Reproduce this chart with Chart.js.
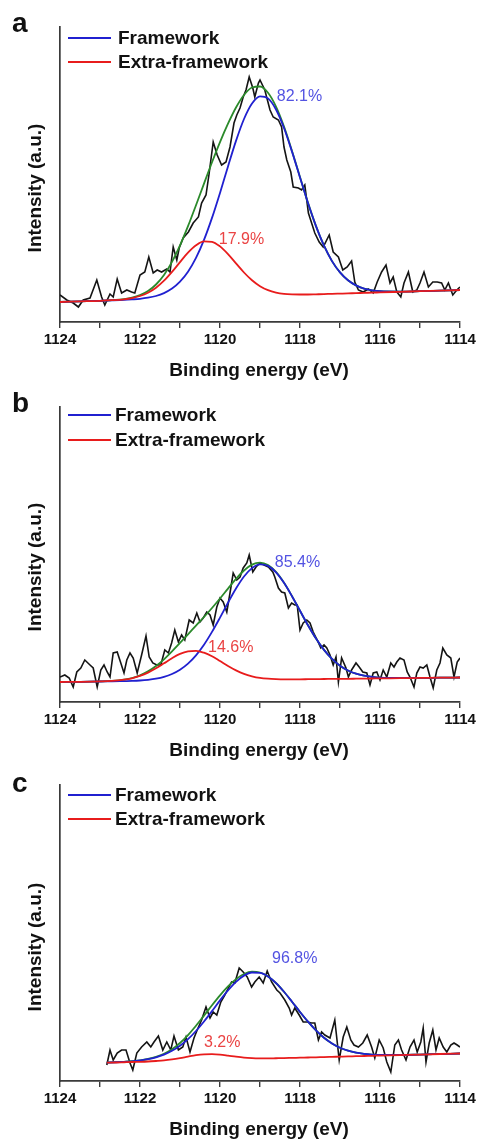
<!DOCTYPE html>
<html><head><meta charset="utf-8">
<script src="https://cdn.jsdelivr.net/npm/chart.js@4"></script>
<style>
html,body{margin:0;padding:0;background:#fff;}
body{width:479px;height:1142px;position:relative;overflow:hidden;}
.panel{position:absolute;left:0;width:479px;height:380px;}
canvas{display:block;}
</style></head><body>
<div class="panel" style="top:0"><canvas id="ca" width="479" height="380"></canvas></div>
<div class="panel" style="top:380px"><canvas id="cb" width="479" height="380"></canvas></div>
<div class="panel" style="top:760px"><canvas id="cc" width="479" height="380"></canvas></div>
<script>
// ---------- DATA ----------
const xTickLabels = [1124, 1122, 1120, 1118, 1116, 1114];
const seriesNames = ["Framework", "Extra-framework"];

// panel a
const fitE_a = [1124,1123.5,1123,1122.7,1122.4,1122.2,1122.0,1121.8,1121.6,1121.4,1121.2,1121.0,1120.8,1120.6,1120.4,1120.2,1120.0,1119.8,1119.6,1119.4,1119.2,1119.0,1118.8,1118.6,1118.4,1118.2,1118.0,1117.8,1117.6,1117.4,1117.2,1117.0,1116.8,1116.6,1116.4,1116.2,1116.0,1115.5,1115.0,1114.5,1114.0];
const red_a = [20,20.6,21.2,21.8,22.7,23.9,26.0,29.3,34.3,41.3,50.1,59.9,69.3,76.7,80.6,80.2,75.6,67.9,58.6,49.5,41.7,35.8,31.8,29.4,28.1,27.6,27.5,27.5,27.7,27.9,28.2,28.4,28.6,28.9,29.1,29.4,29.6,30.2,30.8,31.4,32.0];
const blue_a = [20,20.6,21.2,21.6,22.1,22.6,23.2,24.3,26.0,28.9,33.4,40.3,50.3,64.1,82.1,104.1,129.1,155.6,181.1,203.0,218.5,225.7,223.6,212.5,194.0,170.4,144.6,119.0,95.9,76.3,60.9,49.6,41.7,36.6,33.4,31.7,30.8,30.4,30.8,31.4,32.0];
const green_a = [20,20.6,21.2,21.8,22.9,24.3,26.8,30.9,37.5,47.1,60.1,76.6,95.8,116.8,138.4,159.7,179.9,198.3,214.5,227.0,234.5,235.5,229.2,215.4,195.4,171.1,144.9,119.1,95.9,76.3,60.9,49.6,41.7,36.6,33.4,31.7,30.8,30.4,30.8,31.4,32.0];
const rawE_a = [1124.00,1123.83,1123.67,1123.54,1123.42,1123.25,1123.08,1122.96,1122.88,1122.75,1122.67,1122.57,1122.46,1122.33,1122.21,1122.13,1122.00,1121.88,1121.78,1121.67,1121.57,1121.46,1121.33,1121.25,1121.17,1121.08,1121.02,1120.92,1120.79,1120.67,1120.54,1120.46,1120.35,1120.27,1120.17,1120.07,1119.96,1119.85,1119.75,1119.65,1119.58,1119.50,1119.42,1119.35,1119.27,1119.18,1119.13,1119.04,1119.00,1118.88,1118.75,1118.67,1118.54,1118.46,1118.40,1118.33,1118.23,1118.17,1118.04,1117.96,1117.88,1117.79,1117.71,1117.63,1117.52,1117.42,1117.27,1117.17,1117.04,1116.93,1116.82,1116.71,1116.63,1116.54,1116.42,1116.29,1116.17,1116.07,1115.96,1115.85,1115.75,1115.67,1115.58,1115.48,1115.40,1115.29,1115.18,1115.08,1115.00,1114.90,1114.79,1114.68,1114.57,1114.46,1114.38,1114.29,1114.18,1114.08,1114.00];
const raw_a = [27,22,19,15,22,24,42,25,17,28,25,43,29,32,30,29,47,50,65,49,52,50,53,50,75,62,74,84,90,99,105,119,127,149,180,167,157,160,175,199,207,214,225,232,245,234,225,239,242,232,212,205,202,195,175,162,150,135,134,132,137,109,99,89,80,75,87,70,65,52,55,61,40,32,30,33,29,40,50,57,39,45,30,25,39,50,30,32,39,50,35,40,40,39,32,39,27,32,35];

// panel b
const fitE_b = fitE_a.slice();
const red_b = [20,20.2,20.6,21.1,22.3,23.7,26.1,29.4,33.7,38.7,43.8,48.1,50.7,51.2,49.3,45.7,40.9,36.0,31.6,28.1,25.7,24.1,23.3,22.9,22.7,22.7,22.7,22.8,22.9,23.0,23.1,23.2,23.2,23.3,23.4,23.5,23.6,23.8,24.05,24.3,24.5];
const blue_b = [20,20.2,20.5,20.6,20.9,21.1,21.5,22.2,23.3,25.1,28.0,32.3,38.4,46.7,57.3,70.1,84.4,99.3,113.5,125.5,133.9,137.6,136.1,129.7,119.2,105.8,91.2,76.7,63.4,52.1,43.1,36.3,31.5,28.3,26.3,25.1,24.4,24.0,24.05,24.3,24.5];
const green_b = [20,20.2,20.6,21.1,22.4,24.0,26.7,30.6,36.0,42.7,50.6,59.1,67.7,76.4,85.0,94.0,103.5,113.4,123.1,131.5,137.4,139.4,137.0,130.1,119.3,105.9,91.2,76.7,63.4,52.1,43.1,36.3,31.5,28.3,26.3,25.1,24.4,24.0,24.05,24.3,24.5];
const rawE_b = [1124.00,1123.88,1123.77,1123.67,1123.58,1123.48,1123.38,1123.25,1123.17,1123.07,1122.98,1122.90,1122.82,1122.75,1122.67,1122.57,1122.48,1122.40,1122.33,1122.25,1122.17,1122.07,1121.96,1121.85,1121.77,1121.68,1121.58,1121.48,1121.38,1121.29,1121.21,1121.13,1121.04,1120.96,1120.88,1120.77,1120.67,1120.58,1120.50,1120.42,1120.33,1120.25,1120.17,1120.08,1120.00,1119.92,1119.83,1119.75,1119.67,1119.58,1119.50,1119.42,1119.33,1119.27,1119.18,1119.10,
 1119.00,1118.90,1118.79,1118.68,1118.63,1118.54,1118.46,1118.38,1118.29,1118.21,1118.13,1118.07,1118.00,1117.92,1117.83,1117.75,1117.67,1117.57,1117.48,1117.40,1117.33,1117.25,1117.17,1117.10,1117.04,1116.96,1116.85,1116.79,1116.71,1116.60,1116.52,1116.43,1116.33,1116.25,1116.17,1116.08,1116.00,1115.92,1115.83,1115.73,1115.65,1115.58,1115.50,1115.40,1115.32,1115.25,1115.15,1115.08,1115.00,1114.92,1114.83,1114.75,1114.67,1114.58,1114.50,1114.43,1114.33,1114.23,1114.15,1114.07,1114.00];
const raw_b = [25,27,24,15,30,34,42,37,34,15,32,37,30,25,49,50,39,29,42,49,44,29,47,66,45,39,37,37,52,49,59,72,60,67,62,82,79,89,80,84,90,87,77,95,104,100,90,109,129,122,125,134,139,147,130,135,
 139,137,135,130,125,114,110,109,94,99,97,97,72,79,82,79,70,62,54,57,54,47,37,45,20,44,34,25,32,39,35,30,29,17,29,30,22,32,25,39,35,40,44,42,30,25,15,29,35,34,37,25,14,32,39,54,47,44,25,40,44];

// panel c
const fitE_c = [1122.83,1122.6,1122.4,1122.2,1122.0,1121.8,1121.6,1121.4,1121.2,1121.0,1120.8,1120.6,1120.4,1120.2,1120.0,1119.8,1119.6,1119.4,1119.2,1119.0,1118.8,1118.6,1118.4,1118.2,1118.0,1117.8,1117.6,1117.4,1117.2,1117.0,1116.8,1116.6,1116.4,1116.2,1116.0,1115.5,1115.0,1114.5,1114.0];
const red_c = [18.3,18.5,18.75,19.0,19.2,19.5,20.0,20.6,21.6,22.9,24.4,25.8,26.7,26.9,26.4,25.4,24.3,23.4,22.9,22.65,22.6,22.75,22.9,23.1,23.3,23.5,23.7,23.95,24.15,24.35,24.55,24.8,25.0,25.2,25.4,25.9,26.4,27.0,27.5];
const blue_c = [18.4,18.75,19.2,19.7,20.6,21.8,23.7,26.4,30.2,35.3,41.9,50.0,59.5,69.9,80.6,90.6,99.2,105.4,108.5,108.2,104.5,97.95,89.25,79.3,69.05,59.3,50.6,43.3,37.6,33.3,30.3,28.3,27.1,26.4,26.05,26.0,26.44,26.96,27.48];
const green_c = [18.4,18.8,19.2,19.8,20.6,22.0,24.1,27.2,31.7,38.0,45.9,55.2,65.4,75.8,85.7,94.6,101.9,107.0,109.3,108.5,104.6,98.0,89.25,79.3,69.05,59.3,50.6,43.3,37.6,33.3,30.3,28.3,27.1,26.4,26.05,26.0,26.44,26.96,27.48];
const rawE_c = [1122.83,1122.75,1122.67,1122.57,1122.46,1122.35,1122.25,1122.18,1122.08,1121.96,1121.83,1121.73,1121.65,1121.54,1121.43,1121.33,1121.23,1121.15,1121.04,1120.93,1120.85,1120.75,1120.65,1120.57,1120.46,1120.35,1120.25,1120.17,1120.08,1119.98,1119.88,1119.79,1119.71,1119.63,1119.52,1119.42,1119.32,1119.21,1119.13,1119.02,1118.92,1118.82,1118.71,1118.58,
 1118.50,1118.38,1118.27,1118.21,1118.13,1118.02,1117.92,1117.82,1117.71,1117.63,1117.54,1117.46,1117.38,1117.25,1117.13,1117.02,1116.92,1116.83,1116.73,1116.65,1116.54,1116.43,1116.32,1116.21,1116.13,1116.02,1115.92,1115.83,1115.73,1115.63,1115.54,1115.46,1115.35,1115.25,1115.15,1115.07,1114.98,1114.92,1114.85,1114.77,1114.68,1114.60,1114.52,1114.42,1114.33,1114.23,1114.15,1114.07,1114.00];
const raw_c = [16,31,21,28,31,31,18,11,28,34,39,34,39,45,31,39,31,45,31,34,44,29,43,51,61,74,63,69,66,79,86,93,99,98,113,109,104,94,99,104,98,110,99,91,
 88,81,73,66,73,66,59,59,58,58,41,49,46,43,61,21,44,54,41,36,34,38,46,34,23,41,33,19,9,36,41,31,21,34,41,29,39,53,19,38,51,31,43,34,29,36,38,36,34];

const shares_a = ["82.1%", "17.9%"];
const shares_b = ["85.4%", "14.6%"];
const shares_c = ["96.8%", "3.2%"];

// ---------- STYLE / LAYOUT ----------
const FONT = "'Liberation Sans', Arial, Helvetica, sans-serif";
const C_BLUE = '#2020d0', C_RED = '#e81c1c', C_GREEN = '#2b8a2b', C_BLACK = '#141414', C_AXIS = '#3a3a3a';
const C_BLUE_T = '#5353e2', C_RED_T = '#ea4444';

const pts = (xs, ys) => xs.map((x, i) => ({x: x, y: ys[i]}));

const textPlugin = {
  id: 'panelTexts',
  afterDraw(chart, args, o) {
    const ctx = chart.ctx, xs = chart.scales.x, ys = chart.scales.y;
    ctx.save();
    ctx.fillStyle = '#111';
    ctx.font = 'bold 28px ' + FONT;
    ctx.textAlign = 'left'; ctx.textBaseline = 'alphabetic';
    ctx.fillText(o.letter, 12, 32);
    // legend
    const legCols = [C_BLUE, C_RED];
    ctx.font = 'bold 19px ' + FONT;
    ctx.textBaseline = 'middle';
    o.legY.forEach((y, i) => {
      ctx.strokeStyle = legCols[i]; ctx.lineWidth = 2;
      ctx.beginPath(); ctx.moveTo(68, y); ctx.lineTo(111, y); ctx.stroke();
      ctx.fillStyle = '#111';
      ctx.fillText(seriesNames[i], o.legX, y + 1);
    });
    // percentages
    ctx.font = '16px ' + FONT;
    o.notes.forEach(n => {
      ctx.fillStyle = n.color;
      ctx.fillText(n.text, xs.getPixelForValue(n.e), ys.getPixelForValue(n.v));
    });
    // axis titles
    ctx.fillStyle = '#111';
    ctx.font = 'bold 19px ' + FONT;
    ctx.textAlign = 'center';
    ctx.fillText('Binding energy (eV)', 259, o.xTitleY);
    ctx.translate(36, o.yTitleY);
    ctx.rotate(-Math.PI / 2);
    ctx.fillText('Intensity (a.u.)', 0, 0);
    ctx.restore();
  }
};

function makePanel(id, d) {
  const top = d.top, bottom = d.bottom;
  new Chart(document.getElementById(id), {
    type: 'line',
    data: {
      datasets: [
        {data: pts(d.fitE, d.red), borderColor: C_RED, borderWidth: 1.8, order: 0, cubicInterpolationMode: 'monotone'},
        {data: pts(d.fitE, d.blue), borderColor: C_BLUE, borderWidth: 1.8, order: 1, cubicInterpolationMode: 'monotone'},
        {data: pts(d.fitE, d.green), borderColor: C_GREEN, borderWidth: 1.8, order: 2, cubicInterpolationMode: 'monotone'},
        {data: pts(d.rawE, d.raw), borderColor: C_BLACK, borderWidth: 1.6, order: 3, tension: 0}
      ]
    },
    options: {
      responsive: false,
      animation: false,
      layout: {padding: {left: 0, right: 19, top: top, bottom: 0}},
      elements: {point: {radius: 0}, line: {fill: false}},
      plugins: {legend: {display: false}, tooltip: {enabled: false}, panelTexts: d.texts},
      scales: {
        x: {
          type: 'linear', min: 1114, max: 1124, reverse: true,
          afterFit: s => { s.height = 380 - bottom; },
          ticks: {
            stepSize: 1, autoSkip: false, maxRotation: 0, padding: 3,
            color: '#111', font: {family: FONT, size: 15, weight: 'bold'},
            callback: v => xTickLabels.includes(v) ? String(v) : ''
          },
          grid: {display: true, drawOnChartArea: false, drawTicks: true, tickLength: 6, color: C_AXIS, lineWidth: 1.4},
          border: {display: true, color: C_AXIS, width: 1.7}
        },
        y: {
          min: 0, max: d.ymax,
          afterFit: s => { s.width = 60; },
          ticks: {display: false},
          grid: {display: false},
          border: {display: true, color: C_AXIS, width: 1.7}
        }
      }
    },
    plugins: [textPlugin]
  });
}

makePanel('ca', {
  top: 27, bottom: 322, ymax: 295,
  fitE: fitE_a, red: red_a, blue: blue_a, green: green_a, rawE: rawE_a, raw: raw_a,
  texts: {letter: 'a', legY: [38, 62], legX: 118, xTitleY: 371, yTitleY: 188,
    notes: [{text: shares_a[0], e: 1118.58, v: 225, color: C_BLUE_T}, {text: shares_a[1], e: 1120.03, v: 82, color: C_RED_T}]}
});
makePanel('cb', {
  top: 27, bottom: 322, ymax: 295,
  fitE: fitE_b, red: red_b, blue: blue_b, green: green_b, rawE: rawE_b, raw: raw_b,
  texts: {letter: 'b', legY: [35, 60], legX: 115, xTitleY: 371, yTitleY: 187,
    notes: [{text: shares_b[0], e: 1118.63, v: 139, color: C_BLUE_T}, {text: shares_b[1], e: 1120.3, v: 54, color: C_RED_T}]}
});
makePanel('cc', {
  top: 25, bottom: 321, ymax: 296,
  fitE: fitE_c, red: red_c, blue: blue_c, green: green_c, rawE: rawE_c, raw: raw_c,
  texts: {letter: 'c', legY: [35, 59], legX: 115, xTitleY: 370, yTitleY: 187,
    notes: [{text: shares_c[0], e: 1118.7, v: 122, color: C_BLUE_T}, {text: shares_c[1], e: 1120.4, v: 38, color: C_RED_T}]}
});
</script>
</body></html>
